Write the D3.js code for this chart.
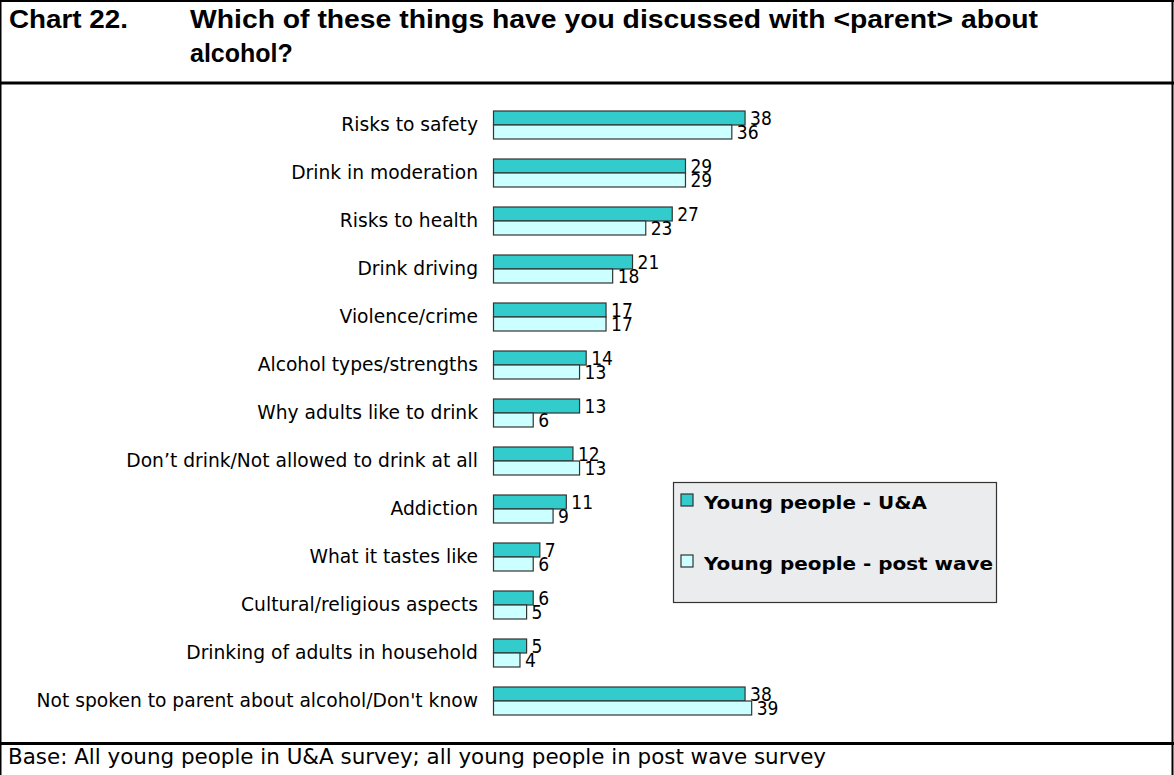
<!DOCTYPE html>
<html>
<head>
<meta charset="utf-8">
<script src="https://cdn.jsdelivr.net/npm/d3@7"></script>
<style>
  html, body { margin: 0; padding: 0; background: #fff; }
  svg { display: block; }
  text { font-family: "DejaVu Sans", sans-serif; fill: #000; }
  .head { font-family: "Liberation Sans", Arial, sans-serif; font-weight: bold; }
  .leg { font-family: "DejaVu Sans", sans-serif; font-weight: bold; }
  .narrow { font-family: "DejaVu Sans Condensed", "DejaVu Sans", sans-serif; }
</style>
</head>
<body>
<script>
// Survey answers: topics young people discussed with a parent about alcohol (%)
const categories = [
  "Risks to safety",
  "Drink in moderation",
  "Risks to health",
  "Drink driving",
  "Violence/crime",
  "Alcohol types/strengths",
  "Why adults like to drink",
  "Don\u2019t drink/Not allowed to drink at all",
  "Addiction",
  "What it tastes like",
  "Cultural/religious aspects",
  "Drinking of adults in household",
  "Not spoken to parent about alcohol/Don't know"
];
const uaValues   = [38, 29, 27, 21, 17, 14, 13, 12, 11, 7, 6, 5, 38];
const postValues = [36, 29, 23, 18, 17, 13, 6, 13, 9, 6, 5, 4, 39];
const seriesNames  = ["Young people - U&A", "Young people - post wave"];
const seriesColors = ["#33CCCC", "#CCFFFF"];
const titleLabel = "Chart 22.";
const titleLines = ["Which of these things have you discussed with <parent> about", "alcohol?"];
const footnote = "Base: All young people in U&A survey; all young people in post wave survey";

const W = 1174, H = 775;
const svg = d3.select("body").append("svg").attr("width", W).attr("height", H);
svg.append("rect").attr("width", W).attr("height", H).attr("fill", "#fff");

// Frame around title, chart and footnote
const frame = svg.append("g").attr("stroke", "#000").attr("fill", "none");
frame.append("line").attr("x1", 0).attr("x2", W).attr("y1", 1).attr("y2", 1).attr("stroke-width", 2);
frame.append("line").attr("x1", 0).attr("x2", W).attr("y1", 83).attr("y2", 83).attr("stroke-width", 3);
frame.append("line").attr("x1", 0).attr("x2", W).attr("y1", 743.5).attr("y2", 743.5).attr("stroke-width", 3);
frame.append("line").attr("x1", 0.5).attr("x2", 0.5).attr("y1", 0).attr("y2", H).attr("stroke-width", 2);
frame.append("line").attr("x1", 1172.5).attr("x2", 1172.5).attr("y1", 0).attr("y2", H).attr("stroke-width", 2);

// Fit a text element to a given width
function fit(sel, width) {
  const w = sel.node().getComputedTextLength();
  if (Math.abs(w - width) > 2) sel.attr("textLength", width).attr("lengthAdjust", "spacingAndGlyphs");
  return sel;
}

// Title
fit(svg.append("text").attr("class", "head").attr("x", 9).attr("y", 28).attr("font-size", 25).text(titleLabel), 119);
fit(svg.append("text").attr("class", "head").attr("x", 190).attr("y", 28).attr("font-size", 25).text(titleLines[0]), 848);
svg.append("text").attr("class", "head").attr("x", 190).attr("y", 62).attr("font-size", 25).text(titleLines[1]);

// Footnote
fit(svg.append("text").attr("class", "narrow").attr("x", 8).attr("y", 764).attr("font-size", 21).text(footnote), 818);

// Scales
const y = d3.scaleBand().domain(categories).range([101, 725])
  .paddingInner(20 / 48).paddingOuter(10 / 48);
const ySub = d3.scaleBand().domain([0, 1]).range([0, y.bandwidth()]);
const x = d3.scaleLinear().domain([0, 40]).range([493.5, 758.3]);

const rows = categories.map((c, i) => ({ cat: c, vals: [uaValues[i], postValues[i]] }));

// Category axis (labels only)
const yAxis = d3.axisLeft(y).tickSize(0).tickPadding(0);
const ax = svg.append("g").attr("transform", "translate(478,0)").call(yAxis);
ax.select(".domain").remove();
ax.selectAll("text").attr("font-size", 18.7).attr("fill", "#000")
  .style("font-family", '"DejaVu Sans", sans-serif');

// Bars
const groups = svg.append("g").selectAll("g").data(rows).join("g")
  .attr("transform", d => `translate(0,${y(d.cat)})`);

groups.selectAll("rect").data(d => d.vals.map((v, k) => ({ v, k }))).join("rect")
  .attr("x", x(0))
  .attr("y", d => ySub(d.k))
  .attr("width", d => x(d.v) - x(0))
  .attr("height", ySub.bandwidth())
  .attr("fill", d => seriesColors[d.k])
  .attr("stroke", "#333")
  .attr("stroke-width", 1.2);

groups.selectAll("text.val").data(d => d.vals.map((v, k) => ({ v, k }))).join("text")
  .attr("class", "val narrow")
  .attr("x", d => x(d.v) + 5)
  .attr("y", d => ySub(d.k) + ySub.bandwidth() / 2)
  .attr("dy", "0.36em")
  .attr("font-size", 19)
  .text(d => d.v);

// Legend
const lg = svg.append("g");
lg.append("rect").attr("x", 673.5).attr("y", 482.5).attr("width", 323).attr("height", 120)
  .attr("fill", "#EAECEE").attr("stroke", "#333").attr("stroke-width", 1.2);
const legY = [494, 555];
const legWidths = [223, 289];
seriesNames.forEach((name, k) => {
  lg.append("rect").attr("x", 681).attr("y", legY[k]).attr("width", 12).attr("height", 12)
    .attr("fill", seriesColors[k]).attr("stroke", "#333").attr("stroke-width", 1.2);
  const t = lg.append("text").attr("class", "leg").attr("x", 704).attr("y", legY[k] + 14.5)
    .attr("font-size", 18).text(name);
  fit(t, legWidths[k]);
});
</script>
</body>
</html>
